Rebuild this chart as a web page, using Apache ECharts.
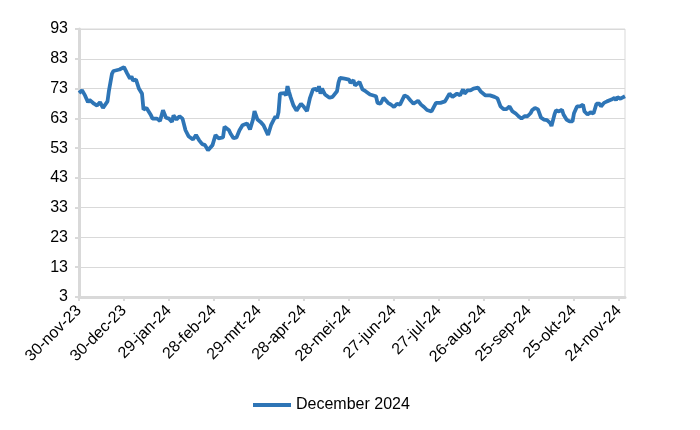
<!DOCTYPE html>
<html>
<head>
<meta charset="utf-8">
<script src="https://cdn.jsdelivr.net/npm/echarts@6/dist/echarts.min.js"></script>
<style>
  html, body { margin: 0; padding: 0; background: #fff; }
  #main { width: 700px; height: 430px; }
</style>
</head>
<body>
<div id="main"></div>
<script>
// dagen sinds 30-nov-23
var days = [0, 2, 4, 6, 7, 10, 12, 14, 16, 19, 20, 22, 23, 27, 30, 32, 34, 35, 36, 38,
  40, 42, 43, 45, 46, 48, 49, 52, 54, 56, 58, 60, 62, 63, 65, 67, 69, 71, 73, 76,
  78, 80, 82, 84, 86, 89, 91, 93, 96, 97, 100, 101, 103, 105, 107, 109, 112, 114, 116, 117,
  119, 121, 123, 126, 128, 131, 132, 133, 134, 137, 138, 139, 140, 141, 143, 145, 148, 150, 152, 154,
  156, 158, 159, 160, 161, 162, 164, 167, 169, 172, 173, 174, 177, 178, 180, 181, 183, 184, 187, 189,
  191, 194, 198, 199, 201, 203, 206, 208, 210, 212, 214, 217, 219, 221, 223, 226, 228, 230, 232, 235,
  236, 238, 239, 241, 242, 244, 247, 249, 250, 252, 254, 256, 257, 259, 261, 263, 266, 268, 271, 272,
  274, 277, 279, 281, 283, 285, 287, 289, 291, 293, 295, 297, 299, 301, 302, 304, 306, 308, 310, 312,
  314, 315, 317, 318, 320, 322, 323, 325, 327, 329, 330, 332, 334, 336, 337, 339, 341, 343, 345, 347,
  348, 350, 352, 353, 355, 357, 358, 359, 361, 362, 364];
var values = [71.5, 72.4, 70.7, 68.4, 69.2, 67.9, 67.3, 68.4, 66.5, 68.7, 72.4, 78.0, 78.9, 79.4, 80.2, 78.2, 76.3, 77.1, 75.7, 76.0,
  72.9, 71.3, 65.9, 66.5, 67.0, 64.0, 62.9, 62.9, 62.1, 65.7, 63.2, 62.9, 61.8, 64.0, 62.6, 63.7, 62.9, 59.0, 57.0, 55.9,
  57.4, 55.7, 54.4, 54.0, 52.3, 54.0, 57.4, 56.3, 56.6, 60.2, 59.0, 57.9, 56.3, 56.6, 59.0, 60.7, 61.3, 59.3, 62.6, 65.4,
  62.6, 61.8, 60.7, 57.4, 60.7, 63.7, 63.0, 65.0, 71.3, 71.5, 70.7, 73.8, 71.9, 70.2, 67.3, 65.6, 67.9, 66.8, 65.4, 69.9,
  72.7, 72.9, 72.1, 73.8, 71.3, 73.0, 71.0, 69.9, 70.2, 72.1, 75.0, 76.6, 76.3, 76.6, 76.0, 74.9, 75.8, 74.0, 75.2, 72.7,
  72.1, 71.0, 70.4, 68.2, 67.9, 69.9, 68.2, 67.6, 66.8, 67.9, 67.6, 70.7, 70.2, 69.0, 67.9, 68.9, 67.6, 66.8, 65.8, 65.3,
  64.7, 68.2, 67.6, 68.2, 68.7, 68.7, 71.3, 70.2, 69.7, 71.3, 70.7, 72.7, 71.3, 72.4, 72.4, 73.0, 73.3, 71.9, 70.7, 71.3,
  70.7, 70.2, 69.7, 67.0, 66.1, 66.1, 67.0, 65.3, 64.7, 63.7, 62.9, 63.7, 63.7, 64.7, 65.7, 66.5, 66.0, 63.2, 62.6, 62.4,
  61.5, 60.4, 64.3, 65.7, 65.3, 65.9, 64.3, 62.6, 62.0, 62.0, 64.7, 67.0, 67.0, 67.6, 65.3, 64.3, 65.0, 64.6, 67.9, 67.9,
  67.0, 68.2, 68.7, 68.2, 69.3, 69.9, 69.1, 70.1, 69.6, 70.1, 70.4];
var tickDays = [0, 30, 60, 90, 120, 150, 180, 210, 240, 270, 300, 330, 360];
var maanden = ['jan', 'feb', 'mrt', 'apr', 'mei', 'jun', 'jul', 'aug', 'sep', 'okt', 'nov', 'dec'];
var seriesName = 'December 2024';

var start = Date.UTC(2023, 10, 30);
function dagLabel(d) {
  var dt = new Date(start + d * 86400000);
  return dt.getUTCDate() + '-' + maanden[dt.getUTCMonth()] + '-' + String(dt.getUTCFullYear()).slice(2);
}

var chart = echarts.init(document.getElementById('main'));
var font = 'Liberation Sans, Arial, sans-serif';
var option = {
  animation: false,
  grid: {
    left: 79, right: 75, top: 29, bottom: 133,
    show: true, borderColor: '#d9d9d9', borderWidth: 1
  },
  legend: {
    left: 253, top: 397, padding: 0,
    icon: 'rect', itemWidth: 38, itemHeight: 4,
    textStyle: { fontFamily: font, fontSize: 16, color: '#000' },
    data: [seriesName]
  },
  xAxis: {
    type: 'value',
    min: 0, max: 364, interval: 30,
    axisLine: { show: true, lineStyle: { color: '#d9d9d9', width: 3 } },
    axisTick: { show: true, length: 4, customValues: tickDays, lineStyle: { color: '#d9d9d9', width: 2 } },
    splitLine: { show: false },
    axisLabel: {
      customValues: tickDays,
      rotate: 45, margin: 11,
      fontFamily: font, fontSize: 16, color: '#000',
      formatter: function (v) { return dagLabel(v); }
    }
  },
  yAxis: {
    type: 'value',
    min: 3, max: 93, interval: 10,
    axisLine: { show: true, lineStyle: { color: '#d9d9d9', width: 3 } },
    axisTick: { show: true, length: 4, lineStyle: { color: '#d9d9d9', width: 2 } },
    splitLine: { lineStyle: { color: '#d9d9d9', width: 1 } },
    axisLabel: { margin: 11, fontFamily: font, fontSize: 16, color: '#000' }
  },
  series: [{
    name: seriesName,
    type: 'line',
    showSymbol: false,
    symbol: 'none',
    lineStyle: { color: '#2E75B6', width: 3.8 },
    itemStyle: { color: '#2E75B6' },
    data: days.map(function (d, i) { return [d, values[i]]; })
  }]
};
chart.setOption(option);
</script>
</body>
</html>
